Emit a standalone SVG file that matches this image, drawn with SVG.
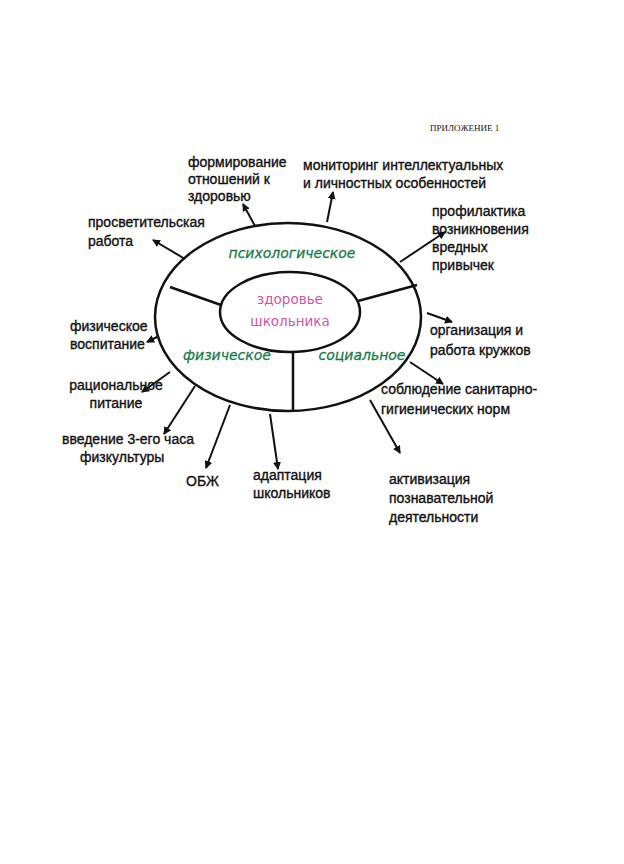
<svg xmlns="http://www.w3.org/2000/svg" width="624" height="864" viewBox="0 0 624 864">
<style>
.t{font-family:"Liberation Sans",Arial,sans-serif;font-size:14px;fill:#111;stroke:#111;stroke-width:0.35}
.g{font-family:"DejaVu Sans",sans-serif;font-size:14px;fill:#1a7a4a;font-style:italic;stroke:#1a7a4a;stroke-width:0.3}
.p{font-family:"DejaVu Sans",sans-serif;font-size:13.5px;fill:#cc55aa}
.c line{stroke:#111;stroke-width:2;marker-end:url(#a)}
.s{fill:none;stroke:#111;stroke-width:2.5}
</style>
<defs><marker id="a" markerWidth="8" markerHeight="8" refX="7" refY="4" orient="auto" markerUnits="userSpaceOnUse"><path d="M0,0L8,4L0,8z" fill="#111"/></marker></defs>
<rect width="624" height="864" fill="#fff"/>
<text x="430" y="131" font-family="Liberation Serif,serif" font-size="9" fill="#111">ПРИЛОЖЕНИЕ 1</text>
<g id="center">
<ellipse class="s" cx="288" cy="317" rx="133" ry="94"/>
<ellipse class="s" cx="290" cy="312" rx="70" ry="40"/>
<line class="s" x1="170" y1="287" x2="221" y2="305"/>
<line class="s" x1="358" y1="301" x2="417" y2="285"/>
<line class="s" x1="293" y1="352" x2="293" y2="410"/>
<text class="g" x="292" y="258" text-anchor="middle">психологическое</text>
<text class="p" x="290" y="304" text-anchor="middle">здоровье</text>
<text class="p" x="290" y="326" text-anchor="middle">школьника</text>
<text class="g" x="227" y="360" text-anchor="middle">физическое</text>
<text class="g" x="362" y="360" text-anchor="middle">социальное</text>
</g>
<g class="c" id="connectors">
<line x1="255" y1="226" x2="243" y2="204"/>
<line x1="327" y1="222" x2="333" y2="192"/>
<line x1="185" y1="259" x2="153" y2="240"/>
<line x1="400" y1="262" x2="445" y2="232"/>
<line x1="159" y1="336" x2="147" y2="342"/>
<line x1="427" y1="313" x2="452" y2="322"/>
<line x1="410" y1="362" x2="443" y2="384"/>
<line x1="170" y1="372" x2="142" y2="392"/>
<line x1="195" y1="386" x2="164" y2="434"/>
<line x1="230" y1="405" x2="206" y2="468"/>
<line x1="270" y1="414" x2="278" y2="469"/>
<line x1="370" y1="400" x2="400" y2="453"/>
</g>
<g id="n1"><text class="t" x="188" y="167">формирование</text><text class="t" x="188" y="184">отношений к</text><text class="t" x="188" y="201">здоровью</text></g>
<g id="n2"><text class="t" x="303" y="170">мониторинг интеллектуальных</text><text class="t" x="303" y="188">и личностных особенностей</text></g>
<g id="n3"><text class="t" x="88" y="227">просветительская</text><text class="t" x="88" y="246">работа</text></g>
<g id="n4"><text class="t" x="432" y="216">профилактика</text><text class="t" x="432" y="234">возникновения</text><text class="t" x="432" y="252">вредных</text><text class="t" x="432" y="270">привычек</text></g>
<g id="n5"><text class="t" x="430" y="335">организация и</text><text class="t" x="430" y="355">работа кружков</text></g>
<g id="n6"><text class="t" x="381" y="394">соблюдение санитарно-</text><text class="t" x="381" y="414">гигиенических норм</text></g>
<g id="n7"><text class="t" x="70" y="331">физическое</text><text class="t" x="70" y="349">воспитание</text></g>
<g id="n8"><text class="t" x="116" y="390" text-anchor="middle">рациональное</text><text class="t" x="116" y="408" text-anchor="middle">питание</text></g>
<g id="n9"><text class="t" x="62" y="444">введение 3-его часа</text><text class="t" x="80" y="462">физкультуры</text></g>
<g id="n10"><text class="t" x="186" y="486">ОБЖ</text></g>
<g id="n11"><text class="t" x="253" y="480">адаптация</text><text class="t" x="253" y="498">школьников</text></g>
<g id="n12"><text class="t" x="389" y="484">активизация</text><text class="t" x="389" y="503">познавательной</text><text class="t" x="389" y="522">деятельности</text></g>
</svg>
